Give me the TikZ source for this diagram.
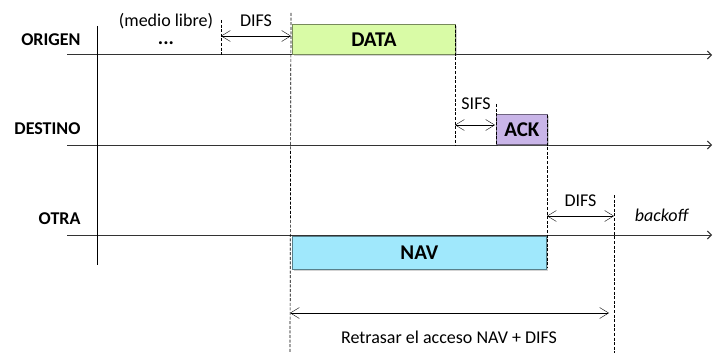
\documentclass[tikz,border=0pt]{standalone}
\usepackage{fontspec}
\setmainfont{Carlito}
\usetikzlibrary{arrows.meta,shadows}
\definecolor{verde}{HTML}{D9FBA6}
\definecolor{lila}{HTML}{C9B5E8}
\definecolor{celeste}{HTML}{A0E8FC}
\tikzset{
  eje/.style={line width=1pt,draw=black!80,-{Straight Barb[length=4pt,width=8pt]}},
  marca/.style={line width=0.7pt,dash pattern=on 3pt off 1.6pt},
  trama/.style={draw=#1!55!black,fill=#1,line width=0.8pt,font=\fontsize{21}{23}\selectfont\bfseries,
    drop shadow={shadow xshift=1.5pt,shadow yshift=-1.5pt,opacity=0.35},inner sep=0pt},
  estacion/.style={anchor=east,font=\fontsize{18}{20}\selectfont\bfseries}
}
\begin{document}
\begin{tikzpicture}[x=1pt,y=-1pt,>={Straight Barb[length=9pt,width=11pt]},font=\fontsize{18}{20}\selectfont]
			\useasboundingbox (0,0) rectangle (713,353);
			% estaciones y lineas de tiempo
			\node[estacion] (origen) at (84,40) {ORIGEN};
			\node[estacion] (destino) at (84,129) {DESTINO};
			\node[estacion] (otra) at (84,219) {OTRA};
			\coordinate (o1) at (67,55);  \coordinate (o2) at (712,55);
			\coordinate (d1) at (67,145); \coordinate (d2) at (712,145);
			\coordinate (r1) at (67,235); \coordinate (r2) at (712,235);
			\draw[eje] (o1)--(o2);
			\draw[eje] (d1)--(d2);
			\draw[eje] (r1)--(r2);
			\coordinate (v1) at (97,26); \coordinate (v2) at (97,265);
			\draw[line width=0.9pt] (v1)--(v2);
			% tramas
			\node[trama=verde,anchor=south west,minimum width=163,minimum height=30] (data) at (292,55) {DATA};
			\node[trama=lila,anchor=south west,minimum width=51,minimum height=30] (ack) at (496,145) {ACK};
			\node[trama=celeste,anchor=north west,minimum width=254,minimum height=33] (nav) at (292,236) {NAV};
			% marcas de tiempo
			\coordinate (a1) at (291,13);  \coordinate (a2) at (290,353);
			\coordinate (b1) at (221,20);  \coordinate (b2) at (221,55);
			\coordinate (c1) at (455,25);  \coordinate (c2) at (455,145);
			\coordinate (e1) at (496,104); \coordinate (e2) at (496,145);
			\coordinate (f1) at (547,115); \coordinate (f2) at (547,268);
			\coordinate (g1) at (614,195); \coordinate (g2) at (614,353);
			\foreach \p in {a,b,c,e,f,g}
				\draw[marca] (\p1)--(\p2);
			% intervalos
			\coordinate (i1) at (221,36); \coordinate (i2) at (291,36);
			\draw[<->] (i1)--(i2) node[midway,above=6pt] (difs1) {DIFS};
			\coordinate (s1) at (455,125); \coordinate (s2) at (495,125);
			\draw[<->] (s1)--(s2);
			\node (sifs) at (476,104) {SIFS};
			\coordinate (j1) at (547,216); \coordinate (j2) at (614,216);
			\draw[<->] (j1)--(j2) node[midway,above=6pt] (difs2) {DIFS};
			\coordinate (k1) at (290,313); \coordinate (k2) at (609,313);
			\draw[<->] (k1)--(k2);
			\node (retraso) at (449,337) {Retrasar el acceso NAV + DIFS};
			\node[inner sep=1pt] (libre) at (166,21) {(medio libre)};
			\node[inner sep=0pt,font=\fontsize{20}{22}\selectfont\bfseries] (puntos) at (166,43) {...};
			\node (backoff) at (662,215) {\textit{backoff}};
		\end{tikzpicture}
\end{document}
